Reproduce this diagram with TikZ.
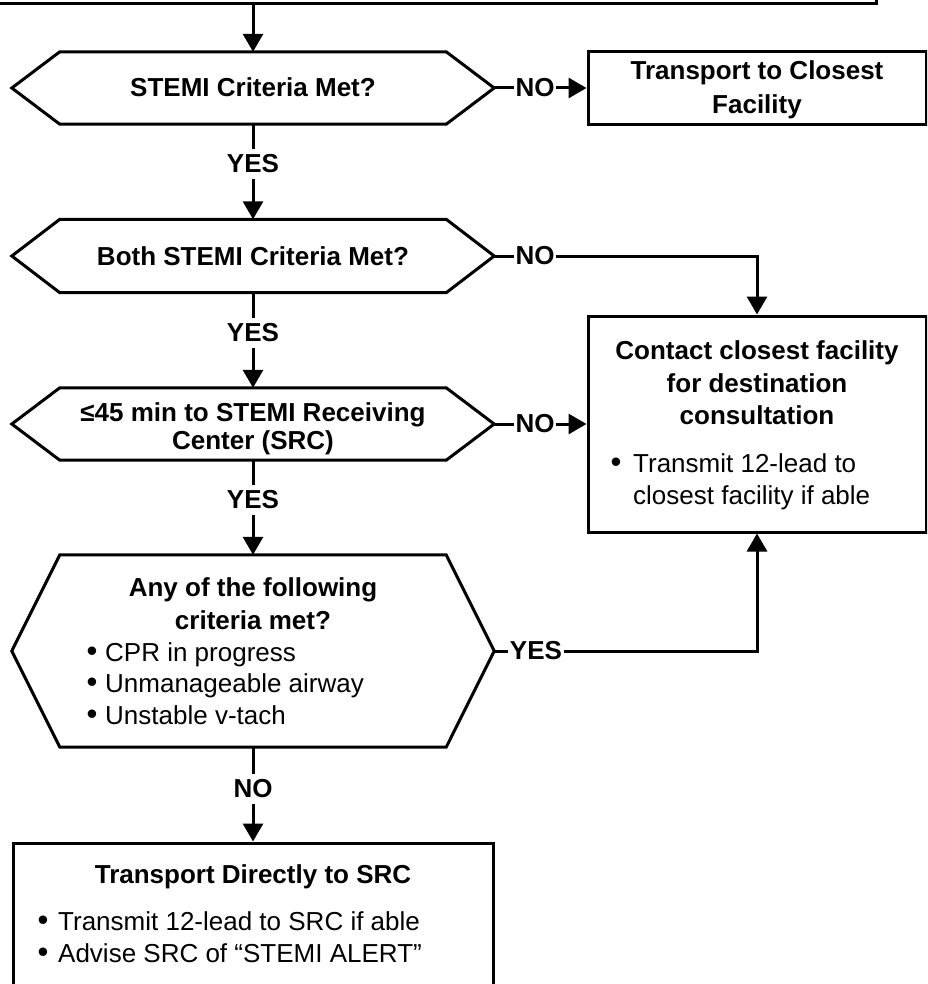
\documentclass[tikz,border=0pt]{standalone}
\usepackage{fontspec}
\setmainfont{Liberation Sans}
\usetikzlibrary{arrows.meta,calc}

% outline of a decision hexagon drawn around a core node, with pointed ends
\newcommand\hexaround[2]{%
  \draw[edge] (#1.north west) -- (#1.north east) -- ($(#1.east)+(#2,0)$) coordinate (#1-r)
    -- (#1.south east) -- (#1.south west) -- ($(#1.west)+(-#2,0)$) coordinate (#1-l) -- cycle;}

\begin{document}
\begin{tikzpicture}[x=1pt,y=-1pt,
  edge/.style={line width=3pt},
  arr/.style={line width=3pt,-{Triangle[width=20pt,length=18pt]}},
  box/.style={draw,line width=3pt,inner sep=0pt,minimum width=338pt},
  hexcore/.style={inner sep=0pt,minimum width=386pt},
  bt/.style={font=\bfseries\fontsize{26pt}{32pt}\selectfont,inner sep=0pt,anchor=base},
  rt/.style={font=\fontsize{26pt}{32pt}\selectfont,inner sep=0pt,anchor=base west},
  dotmark/.style={font=\fontsize{31pt}{32pt}\selectfont,inner sep=0pt,anchor=base},
  lbl/.style={font=\bfseries\fontsize{26pt}{32pt}\selectfont,inner xsep=1.5pt,inner ysep=0pt},
  vlbl/.style={lbl,inner xsep=0pt,inner ysep=6pt}]
\useasboundingbox (0,0) rectangle (927,984);
\clip (0,0) rectangle (927,984);

% boxes and decision cores
\node[box,minimum width=896pt,minimum height=64pt] (start) at (428,-28) {};
\node[hexcore,minimum height=72pt] (d1) at (253,88) {};
\node[box,minimum height=73pt] (tclose) at (757,88) {};
\node[hexcore,minimum height=73pt] (d2) at (253,256) {};
\node[hexcore,minimum height=72pt] (d3) at (253,424) {};
\node[box,minimum height=216pt] (contact) at (757,424) {};
\node[hexcore,minimum height=192pt] (d4) at (253,651) {};
\node[box,minimum width=480pt,minimum height=200pt] (direct) at (253,943) {};

\hexaround{d1}{48}
\hexaround{d2}{48}
\hexaround{d3}{48}
\hexaround{d4}{48}

% branch labels
\node[lbl] (n1) at (535,88) {NO};
\node[vlbl] (y1) at (253,164) {YES};
\node[lbl] (n2) at (535,256) {NO};
\node[vlbl] (y2) at (253,333) {YES};
\node[lbl] (n3) at (535,424) {NO};
\node[vlbl] (y3) at (253,500) {YES};
\node[lbl] (y4) at (536,651) {YES};
\node[vlbl] (n4) at (253,789) {NO};

% connectors
\draw[arr] (d1.north |- start.south) -- (d1.north);
\draw[edge] (d1-r) -- (n1.west);
\draw[arr] (n1.east) -- (tclose.west);
\draw[edge] (d1.south) -- (y1.north);
\draw[arr] (y1.south) -- (d2.north);
\draw[edge] (d2-r) -- (n2.west);
\draw[arr] (n2.east) -| (contact.north);
\draw[edge] (d2.south) -- (y2.north);
\draw[arr] (y2.south) -- (d3.north);
\draw[edge] (d3-r) -- (n3.west);
\draw[arr] (n3.east) -- (contact.west);
\draw[edge] (d3.south) -- (y3.north);
\draw[arr] (y3.south) -- (d4.north);
\draw[edge] (d4-r) -- (y4.west);
\draw[arr] (y4.east) -| (contact.south);
\draw[edge] (d4.south) -- (n4.north);
\draw[arr] (n4.south) -- (direct.north);

% texts
\node[bt] (d1t) at (253,97) {STEMI Criteria Met?};
\node[bt] (tc1) at (757,80) {Transport to Closest};
\node[bt] (tc2) at (757,114) {Facility};
\node[bt] (d2t) at (253,265) {Both STEMI Criteria Met?};
\node[bt] (d3a) at (253,421) {≤45 min to STEMI Receiving};
\node[bt] (d3b) at (253,449) {Center (SRC)};

\node[bt] (c1) at (757,359) {Contact closest facility};
\node[bt] (c2) at (757,392) {for destination};
\node[bt] (c3) at (757,424) {consultation};
\node[dotmark] (c4b) at (616,472) {•};
\node[rt] (c4) at (633,472) {Transmit 12-lead to};
\node[rt] (c5) at (633,504) {closest facility if able};

\node[bt] (a1) at (253,596) {Any of the following};
\node[bt] (a2) at (253,629) {criteria met?};
\node[dotmark] (a3b) at (92,661) {•};
\node[rt] (a3) at (105,661) {CPR in progress};
\node[dotmark] (a4b) at (92,692) {•};
\node[rt] (a4) at (105,692) {Unmanageable airway};
\node[dotmark] (a5b) at (92,724) {•};
\node[rt] (a5) at (105,724) {Unstable v-tach};

\node[bt] (f1) at (253,883) {Transport Directly to SRC};
\node[dotmark] (f2b) at (43,930) {•};
\node[rt] (f2) at (58,930) {Transmit 12-lead to SRC if able};
\node[dotmark] (f3b) at (43,962) {•};
\node[rt] (f3) at (58,962) {Advise SRC of “STEMI ALERT”};
\end{tikzpicture}
\end{document}
